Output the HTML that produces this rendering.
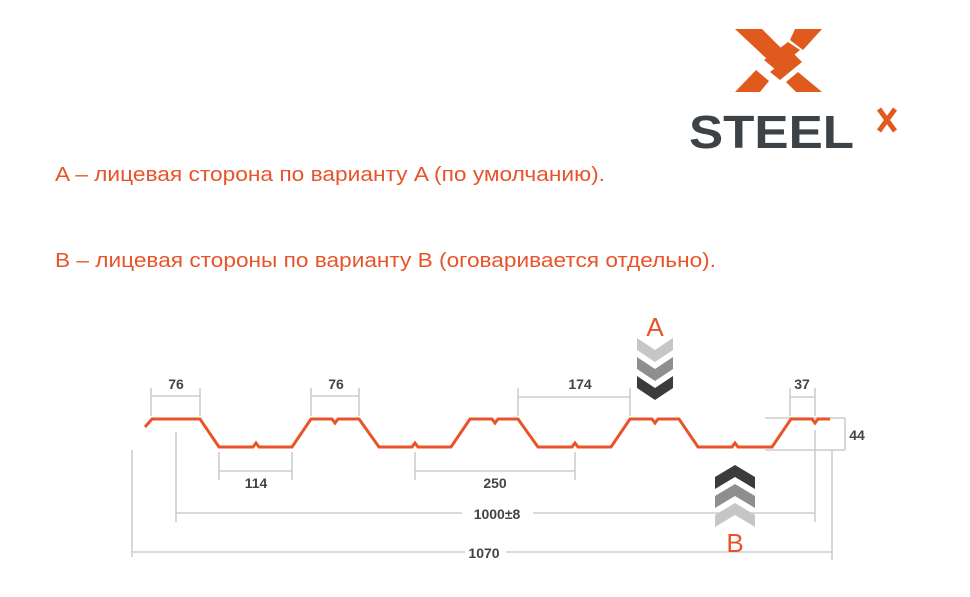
<!DOCTYPE html>
<html><head><meta charset="utf-8"><style>
html,body{margin:0;padding:0;background:#fff;}
svg{display:block;}
</style></head><body>
<svg width="970" height="597" viewBox="0 0 970 597" xmlns="http://www.w3.org/2000/svg">
<rect width="970" height="597" fill="#fff"/>
<!-- logo X -->
<g fill="#e05a1e">
<polygon points="735,29 762,29 781,48 768,60"/>
<polygon points="795,29 822,29 803,50 790,40"/>
<polygon points="764,60 788,42 800,50 776,70"/>
<polygon points="770,72 794,54 802,62 780,80"/>
<polygon points="756,70 769,81 760,92 735,92"/>
<polygon points="798,72 822,92 796,92 786,82"/>
</g>
<text x="689" y="148" font-family="Liberation Sans, sans-serif" font-size="46" font-weight="bold" fill="#3d4246" textLength="165" lengthAdjust="spacingAndGlyphs">STEEL</text>
<path d="M879,109 L895,131 M895,109 L879,131" stroke="#e05a1e" stroke-width="5"/>
<!-- description -->
<text x="55" y="181" font-family="Liberation Sans, sans-serif" font-size="20" fill="#e8542a" textLength="550" lengthAdjust="spacingAndGlyphs">A – лицевая сторона по варианту A (по умолчанию).</text>
<text x="55" y="267" font-family="Liberation Sans, sans-serif" font-size="20" fill="#e8542a" textLength="661" lengthAdjust="spacingAndGlyphs">B – лицевая стороны по варианту B (оговаривается отдельно).</text>
<!-- dimension lines -->
<g stroke="#c4c4c4" stroke-width="1.3" fill="none">
<path d="M151,388V416 M200,388V416 M151,396H200"/>
<path d="M311,388V416 M359,388V416 M311,396H359"/>
<path d="M518,388V416 M630,388V416 M518,397H630"/>
<path d="M790,388V416 M815,388V416 M790,397H815"/>
<path d="M765,418H845 M765,450H845 M845,418V450"/>
<path d="M219,452V480 M292,452V480 M219,471H292"/>
<path d="M415,452V480 M575,452V480 M415,471H575"/>
<path d="M176,432V522 M815,430V522 M176,513H462 M533,513H815"/>
<path d="M132,450V557 M832,450V560 M132,552H465 M506,552H832"/>
</g>
<g font-family="Liberation Sans, sans-serif" font-size="14" font-weight="bold" fill="#444" text-anchor="middle">
<text x="176" y="389">76</text>
<text x="336" y="389">76</text>
<text x="580" y="389">174</text>
<text x="802" y="389">37</text>
<text x="857" y="440">44</text>
<text x="256" y="488">114</text>
<text x="495" y="488">250</text>
<text x="497" y="519">1000±8</text>
<text x="484" y="558">1070</text>
</g>
<!-- profile -->
<path fill="none" stroke="#e8542a" stroke-width="3" stroke-linejoin="miter" d="
M145,427 L152,419 L200,419 L219,447 L253,447 L256,443 L259,447 L292,447
L311,419 L332,419 L335,423 L338,419 L359,419 L379,447 L412,447 L415,443 L418,447 L451,447
L470,419 L492,419 L495,423 L498,419 L518,419 L538,447 L572,447 L575,443 L578,447 L611,447
L630,419 L652,419 L655,423 L658,419 L679,419 L698,447 L732,447 L735,443 L738,447 L772,447
L791,419 L812,419 L815,423 L818,419 L830,419"/>
<!-- chevrons A (down) -->
<g>
<polygon points="637,338 655,350 673,338 673,350 655,362 637,350" fill="#c6c6c6"/>
<polygon points="637,357 655,369 673,357 673,369 655,381 637,369" fill="#8e8e8e"/>
<polygon points="637,376 655,388 673,376 673,388 655,400 637,388" fill="#3b3b3b"/>
</g>
<text x="655" y="336" font-family="Liberation Sans, sans-serif" font-size="26" fill="#e8542a" text-anchor="middle">A</text>
<!-- chevrons B (up) -->
<g>
<polygon points="715,477 735,465 755,477 755,489 735,477 715,489" fill="#3b3b3b"/>
<polygon points="715,496 735,484 755,496 755,508 735,496 715,508" fill="#8e8e8e"/>
<polygon points="715,515 735,503 755,515 755,527 735,515 715,527" fill="#c6c6c6"/>
</g>
<text x="735" y="552" font-family="Liberation Sans, sans-serif" font-size="26" fill="#e8542a" text-anchor="middle">B</text>
</svg>
</body></html>
